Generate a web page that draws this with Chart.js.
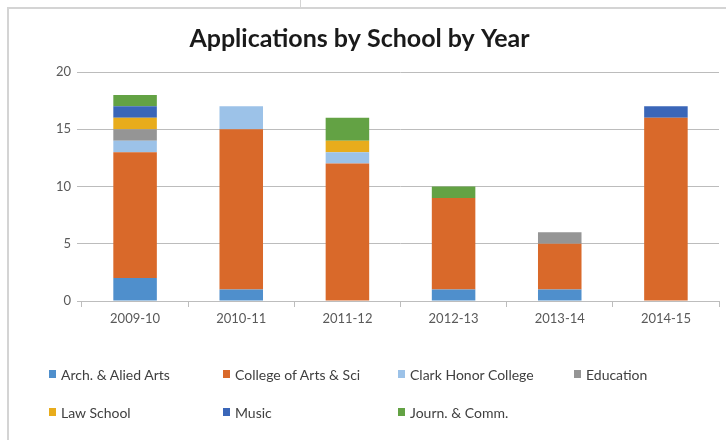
<!DOCTYPE html>
<html>
<head>
<meta charset="utf-8">
<script src="https://cdn.jsdelivr.net/npm/chart.js@4.4.0/dist/chart.umd.min.js"></script>
<style>
  html, body { margin: 0; padding: 0; background: #fff; }
  #wrap { position: relative; width: 726px; height: 440px; overflow: hidden; }
  #frame { position: absolute; left: 7px; top: 7px; right: -2px; bottom: -2px;
           border-top: 2px solid #d4d4d4; border-left: 2px solid #d4d4d4; }
  #notch { position: absolute; left: 300px; top: 0; width: 1px; height: 7px; background: #d4d4d4; }
  #chart { position: absolute; left: 0; top: 0; }
  #legend { position: absolute; left: 0; top: 0; width: 726px; height: 440px; pointer-events: none;
            font-family: Lato, "Open Sans", sans-serif; font-size: 14px; color: #404040; }
  .item { position: absolute; display: flex; align-items: center; white-space: nowrap; }
  .box { width: 7px; height: 8px; margin-right: 5px; }
</style>
</head>
<body>
<div id="wrap">
  <div id="frame"></div>
  <div id="notch"></div>
  <canvas id="chart" width="726" height="440"></canvas>
  <div id="legend"></div>
</div>
<script>
// ===== DATA =====
const years = ["2009-10", "2010-11", "2011-12", "2012-13", "2013-14", "2014-15"];
const schools = ["Arch. & Alied Arts", "College of Arts & Sci", "Clark Honor College", "Education",
                 "Law School", "Music", "Journ. & Comm."];

const archArts   = [2, 1, 0, 1, 1, 0];
const artsSci    = [11, 14, 12, 8, 4, 16];
const clarkHonor = [1, 2, 1, 0, 0, 0];
const education  = [1, 0, 0, 0, 1, 0];
const lawSchool  = [1, 0, 1, 0, 0, 0];
const music      = [1, 0, 0, 0, 0, 1];
const journComm  = [1, 0, 2, 1, 0, 0];

const yTicks = [0, 5, 10, 15, 20];

const colors = ["#4f8fcc", "#d9692a", "#9cc2e8", "#959595", "#e8ac1c", "#3a66b8", "#63a244"];
const seriesValues = [archArts, artsSci, clarkHonor, education, lawSchool, music, journComm];

// ===== CHART =====
const FONT = "Lato, 'Open Sans', sans-serif";
const ctx = document.getElementById("chart").getContext("2d");

const chart = new Chart(ctx, {
    type: "bar",
    data: {
        labels: years,
        datasets: schools.map((name, i) => ({
            label: name,
            data: seriesValues[i],
            backgroundColor: colors[i],
            borderWidth: 0,
            barPercentage: 0.41,
            categoryPercentage: 1.0
        }))
    },
    options: {
        responsive: false,
        animation: false,
        layout: { padding: { left: 0, right: 7, top: 0, bottom: 99 } },
        plugins: {
            legend: { display: false },
            tooltip: { enabled: false },
            title: {
                display: true,
                text: "Applications by School by Year",
                color: "#1a1a1a",
                font: { family: FONT, size: 25, weight: "bold" },
                padding: { top: 24, bottom: 18 }
            }
        },
        scales: {
            x: {
                stacked: true,
                grid: { display: true, drawOnChartArea: false, offset: true, color: "#bdbdbd", tickLength: 6 },
                border: { color: "#bdbdbd" },
                ticks: { color: "#595959", font: { family: FONT, size: 13 }, padding: 4 },
                afterFit: (axis) => { axis.height = 40; }
            },
            y: {
                stacked: true,
                min: 0,
                max: 20,
                afterBuildTicks: (axis) => { axis.ticks = yTicks.map(v => ({ value: v })); },
                grid: { color: "#bcbcbc", tickLength: 5 },
                border: { display: false },
                ticks: { color: "#595959", font: { family: FONT, size: 13 }, padding: 6 },
                afterFit: (axis) => { axis.width = 82; }
            }
        }
    }
});

// ===== LEGEND (grid layout like the original) =====
const legendCols = [49, 223, 398, 574];
const legendRows = [374, 412];
const legendEl = document.getElementById("legend");
schools.forEach((name, i) => {
    const item = document.createElement("div");
    item.className = "item";
    item.style.left = legendCols[i % 4] + "px";
    item.style.top = (legendRows[Math.floor(i / 4)] - 9) + "px";
    item.style.height = "18px";
    item.innerHTML = `<span class="box" style="background:${colors[i]}"></span><span>${name}</span>`;
    legendEl.appendChild(item);
});
</script>
</body>
</html>
